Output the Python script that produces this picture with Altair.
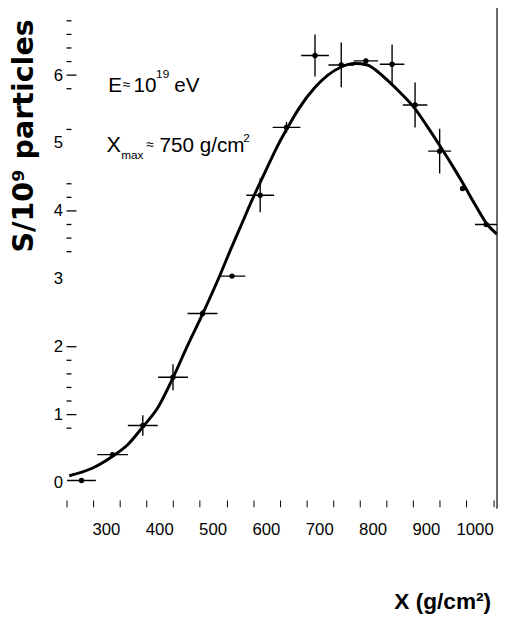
import altair as alt
import pandas as pd

# ---------------- data ----------------
# fitted curve
fit_x = [205, 248, 285, 315, 343, 371, 400, 426, 455, 488, 506, 528, 549, 574, 592,
         614, 635, 666, 690, 715, 740, 764, 777, 801, 826, 854, 875, 900, 924, 943,
         967, 989, 1007]
fit_y = [0.10, 0.21, 0.38, 0.56, 0.82, 1.10, 1.55, 2.00, 2.48, 3.06, 3.40, 3.80, 4.18,
         4.60, 4.90, 5.22, 5.50, 5.82, 6.00, 6.12, 6.17, 6.15, 6.09, 5.93, 5.74, 5.50,
         5.26, 4.96, 4.66, 4.41, 4.08, 3.80, 3.66]

# measured points with errors
pt_x = [228.0, 286.3, 343.0, 399.6, 455.0, 510.3, 563.1, 612.4, 665.9, 715.1,
        761.2, 810.4, 853.5, 899.6, 942.6, 986.9]
pt_y = [0.03, 0.41, 0.84, 1.55, 2.49, 3.04, 4.23, 5.23, 6.29, 6.15,
        6.21, 6.16, 5.56, 4.88, 4.33, 3.80]
pt_xerr = [27, 29, 28, 28, 28, 25, 26, 26, 26, 24, 23, 23, 23, 21.5, 0, 21]
pt_yerr = [0, 0, 0.15, 0.19, 0.05, 0, 0.25, 0.08, 0.31, 0.33, 0.04, 0.29, 0.33, 0.33, 0, 0]

# axes
x_tick_values = [200, 250, 300, 350, 400, 450, 500, 550, 600, 650, 700, 750, 800,
                 850, 900, 950, 1000]
x_label_values = [300, 400, 500, 600, 700, 800, 900, 1000]
y_label_values = [0, 1, 2, 3, 4, 5, 6]
y_major_ticks = [1, 2, 4, 6]
y_minor_ticks = [0.8, 1.2, 1.4, 1.6, 1.8, 3.4, 3.6, 3.8, 4.2, 4.4, 5.2, 5.8,
                 6.2, 6.4, 6.6, 6.8]

# ---------------- build ----------------
fit_df = pd.DataFrame({"x": fit_x, "y": fit_y})
pts = pd.DataFrame({"x": pt_x, "y": pt_y, "xe": pt_xerr, "ye": pt_yerr})
pts["x0"] = pts["x"] - pts["xe"]
pts["x1"] = pts["x"] + pts["xe"]
pts["y0"] = pts["y"] - pts["ye"]
pts["y1"] = pts["y"] + pts["ye"]
one = pd.DataFrame({"a": [0]})

W, H = 437.5, 487
FONT = "Liberation Sans"

xs = alt.Scale(domain=[200, 1007.2], nice=False, zero=False)
ys = alt.Scale(domain=[-0.141, 6.917], nice=False, zero=False)

label_list = ",".join(str(v) for v in x_label_values)
x_axis = alt.Axis(
    values=x_tick_values, title=None, domain=False, grid=False, offset=8,
    tickSize=7, tickColor="black", tickWidth=1, format="d",
    labelExpr=f"indexof([{label_list}], datum.value) >= 0 ? datum.label : ''",
    labelAlign="right", labelPadding=15, labelFont=FONT, labelFontSize=17,
    labelColor="black", labelFlush=False, labelOverlap=False,
)
y_axis = alt.Axis(
    values=y_label_values, title=None, domain=False, grid=False, ticks=False,
    format="d", labelPadding=4, labelFont=FONT, labelFontSize=17, labelColor="black",
    labelFlush=False, labelOverlap=False,
)

X = lambda f: alt.X(f, scale=xs, axis=x_axis)
Y = lambda f: alt.Y(f, scale=ys, axis=y_axis)

curve = alt.Chart(fit_df).mark_line(
    color="black", strokeWidth=3, clip=True, interpolate="monotone"
).encode(x=X("x:Q"), y=Y("y:Q"))

hbars = alt.Chart(pts).mark_rule(color="black", strokeWidth=1.4, clip=True).encode(
    x=X("x0:Q"), x2="x1:Q", y=Y("y:Q"),
)
vbars = alt.Chart(pts).mark_rule(color="black", strokeWidth=1.4, clip=True).encode(
    x=X("x:Q"), y=Y("y0:Q"), y2="y1:Q",
)
dots = alt.Chart(pts).mark_point(
    shape="circle", filled=True, color="black", size=30, opacity=1
).encode(x=X("x:Q"), y=Y("y:Q"))

major = alt.Chart(pd.DataFrame({"v": y_major_ticks})).mark_rule(
    color="black", strokeWidth=1.3
).encode(y=Y("v:Q"), x=alt.value(0), x2=alt.value(10))
minor = alt.Chart(pd.DataFrame({"v": y_minor_ticks})).mark_rule(
    color="black", strokeWidth=1.3
).encode(y=Y("v:Q"), x=alt.value(0), x2=alt.value(5))

frame = alt.Chart(one).mark_rule(color="black", strokeWidth=1.2).encode(
    x=alt.value(W), y=alt.value(-8), y2=alt.value(504)
)


def txt(s, x, y, size, font=FONT, weight="normal", align="left",
        baseline="alphabetic", angle=0):
    kw = dict(text=s, font=font, fontSize=size, fontWeight=weight, align=align,
              baseline=baseline, color="black")
    if angle:
        kw["angle"] = angle
    return alt.Chart(one).mark_text(**kw).encode(x=alt.value(x), y=alt.value(y))


OX, OY = 67.5, 8  # page -> plot-group offset
texts = [
    # y title
    txt("S/10\u2079 particles", 24 - OX, 133 - OY, 29, font="DejaVu Sans",
        weight="bold", align="center", baseline="middle", angle=270),
    # x title
    txt("X (g/cm\u00b2)", 499 - OX, 614 - OY, 23, weight="bold", align="right"),
    # E ~ 10^19 eV
    txt("E", 110 - OX, 88 - OY, 21),
    txt("\u2248", 124.5 - OX, 85 - OY, 14),
    txt("10", 135.5 - OX, 88 - OY, 21),
    txt("19", 158.5 - OX, 74 - OY, 12),
    txt("eV", 177 - OX, 88 - OY, 21),
    # Xmax ~ 750 g/cm2
    txt("X", 108 - OX, 149 - OY, 22),
    txt("max", 123 - OX, 157 - OY, 12),
    txt("\u2248", 148.5 - OX, 146 - OY, 14),
    txt("750 g/cm", 162 - OX, 149 - OY, 21),
    txt("2", 247 - OX, 139 - OY, 12),
]

chart = alt.layer(curve, hbars, vbars, dots, major, minor, frame, *texts).properties(
    width=W, height=H,
    autosize=alt.AutoSizeParams(type="none"),
    padding={"left": 59.5, "top": 0, "right": 2, "bottom": 122},
    background="white",
).configure_view(stroke=None)

chart.save("out.html", embed_options={"renderer": "svg", "actions": False})
